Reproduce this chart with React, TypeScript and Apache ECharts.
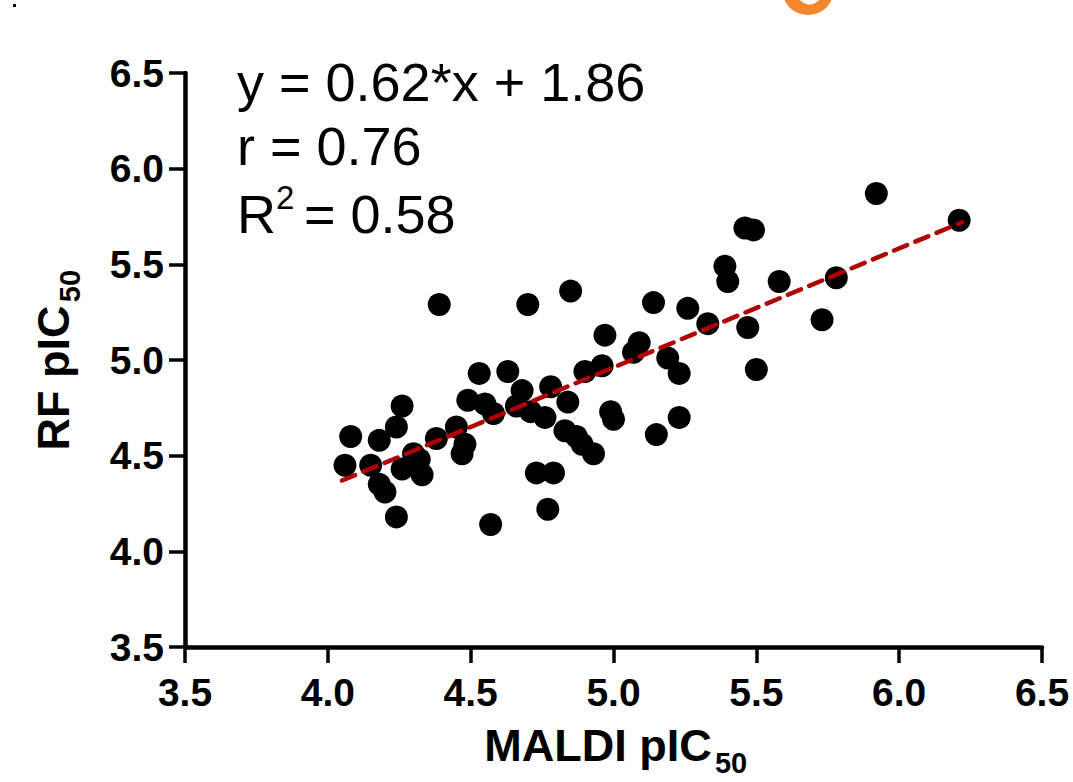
import React, { useEffect, useRef } from "react";
import * as echarts from "echarts";

// MALDI pIC50 (x) and RF pIC50 (y)
const maldi = [
  4.06, 4.08, 4.15, 4.18, 4.24, 4.26, 4.18, 4.2, 4.24, 4.3, 4.26, 4.33, 4.32, 4.38,
  4.45, 4.47, 4.48, 4.49, 4.55, 4.53, 4.63, 4.58, 4.68, 4.66, 4.71, 4.76, 4.78,
  4.84, 4.83, 4.87, 4.93, 4.89, 4.9, 4.96, 4.97, 5.0, 4.99, 4.73, 4.79, 4.77, 4.57,
  4.85, 5.14, 5.26, 5.33, 5.09, 5.07, 5.19, 5.23, 5.47, 5.5, 5.15, 5.23, 5.92, 6.21,
  5.46, 5.49, 5.39, 5.4, 5.58, 5.78, 5.73, 4.39, 4.7,
];
const rf = [
  4.45, 4.6, 4.45, 4.58, 4.65, 4.76, 4.35, 4.31, 4.18, 4.51, 4.43, 4.4, 4.48, 4.59,
  4.65, 4.51, 4.56, 4.79, 4.77, 4.93, 4.94, 4.72, 4.84, 4.76, 4.73, 4.7, 4.86,
  4.78, 4.63, 4.6, 4.51, 4.56, 4.94, 4.97, 5.13, 4.69, 4.73, 4.41, 4.41, 4.22, 4.14,
  5.36, 5.3, 5.27, 5.19, 5.09, 5.04, 5.01, 4.93, 5.17, 4.95, 4.61, 4.7, 5.87, 5.73,
  5.69, 5.68, 5.49, 5.41, 5.41, 5.43, 5.21, 5.29, 5.29,
];
// regression line endpoints (y = 0.62*x + 1.86)
const fitX = [4.05, 6.22];
const fitY = [4.37, 5.72];
const xTicks = ["3.5", "4.0", "4.5", "5.0", "5.5", "6.0", "6.5"];
const statLines = ["y = 0.62*x + 1.86", "r = 0.76", "R", "2", "= 0.58"];

const FONT = "'Liberation Sans', Arial, sans-serif";

export default function App() {
  const ref = useRef<HTMLDivElement>(null);
  useEffect(() => {
    if (!ref.current) return;
    const chart = echarts.init(ref.current, null, { renderer: "svg" });
    echarts.graphic.registerShape(
      "orangeBowl",
      echarts.graphic.extendPath(
        "M783,-8 A25,23 0 0 0 833,-8 L822,-8 A12.5,12.5 0 0 1 797,-8 Z",
        {}
      )
    );
    const points = maldi.map((x, i) => [x, rf[i]]);
    const fit = fitX.map((x, i) => [x, fitY[i]]);
    chart.setOption({
      animation: false,
      backgroundColor: "#fff",
      grid: { left: 185, top: 73, width: 857, height: 574, containLabel: false },
      xAxis: {
        type: "value",
        min: 3.5,
        max: 6.5,
        interval: 0.5,
        axisLine: { onZero: false, lineStyle: { color: "#000", width: 4.5 } },
        axisTick: { length: 16, lineStyle: { color: "#000", width: 3.5 } },
        splitLine: { show: false },
        axisLabel: {
          color: "#000",
          fontSize: 39,
          fontWeight: "bold",
          fontFamily: FONT,
          margin: 26,
          formatter: (v: number) => xTicks[Math.round((v - 3.5) / 0.5)] ?? v.toFixed(1),
        },
      },
      yAxis: {
        type: "value",
        min: 3.5,
        max: 6.5,
        interval: 0.5,
        axisLine: { onZero: false, lineStyle: { color: "#000", width: 4.5 } },
        axisTick: { length: 16, lineStyle: { color: "#000", width: 3.5 } },
        splitLine: { show: false },
        axisLabel: {
          color: "#000",
          fontSize: 39,
          fontWeight: "bold",
          fontFamily: FONT,
          margin: 21,
          formatter: (v: number) => v.toFixed(1),
        },
      },
      series: [
        {
          type: "scatter",
          data: points,
          symbol: "circle",
          symbolSize: 23,
          itemStyle: { color: "#000", opacity: 1 },
          z: 2,
        },
        {
          type: "line",
          data: fit,
          symbol: "none",
          lineStyle: { color: "#b00000", width: 4.5, type: [14, 9], cap: "round" },
          z: 5,
        },
      ],
      graphic: [
        { type: "rect", shape: { x: 13, y: 4, width: 3, height: 3 }, style: { fill: "#000" } },
        { type: "orangeBowl", x: 0, y: 0, style: { fill: "#f7852c" } },
        {
          type: "text",
          x: 237,
          y: 82,
          style: { text: statLines[0], font: `54px ${FONT}`, fill: "#000", verticalAlign: "middle" },
        },
        {
          type: "text",
          x: 237,
          y: 146,
          style: { text: statLines[1], font: `54px ${FONT}`, fill: "#000", verticalAlign: "middle" },
        },
        {
          type: "text",
          x: 237,
          y: 214,
          style: { text: statLines[2], font: `54px ${FONT}`, fill: "#000", verticalAlign: "middle" },
        },
        {
          type: "text",
          x: 276,
          y: 197,
          style: { text: statLines[3], font: `33px ${FONT}`, fill: "#000", verticalAlign: "middle" },
        },
        {
          type: "text",
          x: 304,
          y: 214,
          style: { text: statLines[4], font: `54px ${FONT}`, fill: "#000", verticalAlign: "middle" },
        },
        {
          type: "text",
          x: 598,
          y: 745,
          style: {
            text: "MALDI pIC",
            font: `bold 45px ${FONT}`,
            fill: "#000",
            align: "center",
            verticalAlign: "middle",
          },
        },
        {
          type: "text",
          x: 731,
          y: 763,
          style: {
            text: "50",
            font: `bold 29px ${FONT}`,
            fill: "#000",
            align: "center",
            verticalAlign: "middle",
          },
        },
        {
          type: "text",
          x: 53,
          y: 378,
          rotation: Math.PI / 2,
          style: {
            text: "RF pIC",
            font: `bold 45px ${FONT}`,
            fill: "#000",
            align: "center",
            verticalAlign: "middle",
          },
        },
        {
          type: "text",
          x: 70,
          y: 286,
          rotation: Math.PI / 2,
          style: {
            text: "50",
            font: `bold 29px ${FONT}`,
            fill: "#000",
            align: "center",
            verticalAlign: "middle",
          },
        },
      ],
    });
    return () => chart.dispose();
  }, []);
  return (
    <div
      ref={ref}
      style={{ position: "fixed", left: 0, top: 0, width: 1073, height: 782, background: "#fff" }}
    />
  );
}
